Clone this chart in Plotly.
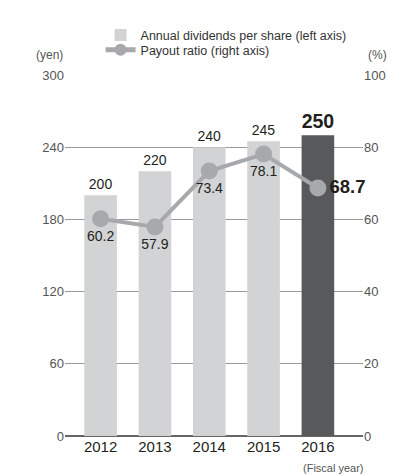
import plotly.graph_objects as go

# Fiscal years and values
years = ["2012", "2013", "2014", "2015", "2016"]
dividends = [200, 220, 240, 245, 250]          # yen per share (left axis)
payout_ratio = [60.2, 57.9, 73.4, 78.1, 68.7]  # % (right axis)

bar_colors = ["#d1d3d4", "#d1d3d4", "#d1d3d4", "#d1d3d4", "#58595b"]
div_text = [str(v) for v in dividends[:-1]] + ["<b>%d</b>" % dividends[-1]]
div_sizes = [14, 14, 14, 14, 20]
pay_text = ["%.1f" % v for v in payout_ratio[:-1]] + ["<b>%.1f</b>" % payout_ratio[-1]]
pay_sizes = [14, 14, 14, 14, 18.5]
pay_pos = ["bottom center"] * 4 + ["middle right"]

label_font = "Liberation Sans Narrow, Arial Narrow, Liberation Sans, Arial"

# the page body adds an 8px margin, so the figure is laid out 8px up/left
W, H = 390, 467
L, R, T, B = 57, 23, 64, 39
plot_w = W - L - R
plot_h = H - T - B

fig = go.Figure()

fig.add_trace(go.Bar(
    x=years, y=dividends, name="Annual dividends per share (left axis)",
    marker=dict(color=bar_colors, line=dict(width=0)),
    width=0.6,
    text=div_text, textposition="outside", cliponaxis=False,
    textfont=dict(family=label_font, size=div_sizes, color="#231f20"),
    yaxis="y", legend="legend",
))

fig.add_trace(go.Scatter(
    x=years, y=payout_ratio, name="Payout ratio (right axis)",
    mode="lines+markers+text",
    line=dict(color="#a7a9ac", width=4),
    marker=dict(color="#a7a9ac", size=17),
    text=pay_text, textposition=pay_pos, cliponaxis=False,
    textfont=dict(family=label_font, size=pay_sizes, color="#231f20"),
    yaxis="y2", legend="legend2",
))

legend_x = (94 - L) / plot_w
fig.update_layout(
    width=W, height=H,
    margin=dict(l=L, r=R, t=T, b=B),
    paper_bgcolor="white", plot_bgcolor="white",
    font=dict(family="Liberation Sans, Arial", color="#333333"),
    showlegend=True,
    legend=dict(
        x=legend_x, y=1 + (T - 24) / plot_h, xanchor="left", yanchor="middle",
        font=dict(size=12.5, color="#333333"), bgcolor="rgba(0,0,0,0)",
        itemsizing="constant",
    ),
    legend2=dict(
        x=legend_x, y=1 + (T - 39) / plot_h, xanchor="left", yanchor="middle",
        font=dict(size=12.5, color="#333333"), bgcolor="rgba(0,0,0,0)",
        itemsizing="constant",
    ),
    xaxis=dict(
        type="category", range=[-0.655, 4.83],
        showgrid=False, showline=False, ticks="",
        tickfont=dict(size=15, color="#231f20"),
    ),
    yaxis=dict(
        range=[0, 300], tickvals=[0, 60, 120, 180, 240, 300],
        showgrid=True, gridcolor="#999999", gridwidth=1,
        zeroline=True, zerolinecolor="#666666", zerolinewidth=1.6,
        showline=False, ticks="",
        tickfont=dict(size=13, color="#555555"),
    ),
    yaxis2=dict(
        range=[0, 100], tickvals=[0, 20, 40, 60, 80, 100],
        overlaying="y", side="right",
        showgrid=False, zeroline=False, showline=False, ticks="",
        tickfont=dict(size=13, color="#555555"),
    ),
    annotations=[
        dict(text="(yen)", xref="paper", yref="paper", x=0, y=1 + 20 / plot_h,
             xanchor="right", yanchor="middle", showarrow=False,
             font=dict(size=12, color="#555555")),
        dict(text="(%)", xref="paper", yref="paper", x=(370 - L) / plot_w, y=1 + 20 / plot_h,
             xanchor="left", yanchor="middle", showarrow=False,
             font=dict(size=12, color="#555555")),
        dict(text="(Fiscal year)", xref="paper", yref="paper", x=(336 - L) / plot_w,
             y=-32 / plot_h, xanchor="center", yanchor="middle", showarrow=False,
             font=dict(size=11, color="#555555")),
    ],
)

fig.write_html("out.html")
